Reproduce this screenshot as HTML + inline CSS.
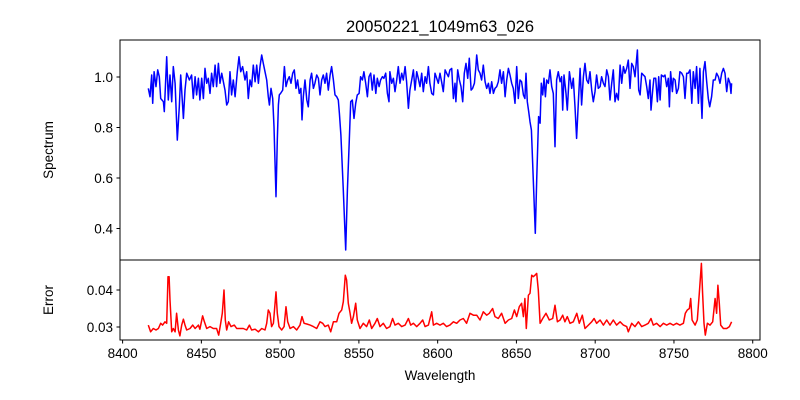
<!DOCTYPE html>
<html><head><meta charset="utf-8"><style>
body{margin:0;background:#fff;}
svg{display:block;font-family:"Liberation Sans","DejaVu Sans",sans-serif;}
</style></head><body>
<svg id="chart" width="800" height="400" viewBox="0 0 800 400">
<rect x="0" y="0" width="800" height="400" fill="#fff"/>
<text x="440" y="32" font-size="16.5" text-anchor="middle">20050221_1049m63_026</text>
<g id="topPanel"></g>
<g id="botPanel"></g>
<rect x="120" y="40" width="640" height="220" fill="none" stroke="#000" stroke-width="1"/>
<rect x="120" y="260" width="640" height="80" fill="none" stroke="#000" stroke-width="1"/>
<text x="53" y="150" font-size="13.5" text-anchor="middle" transform="rotate(-90 53 150)">Spectrum</text>
<text x="53" y="300" font-size="13.5" text-anchor="middle" transform="rotate(-90 53 300)">Error</text>
<text x="440" y="380" font-size="13.5" text-anchor="middle">Wavelength</text>
</svg>
<script>
const specWave=[8416.3,8417.4,8418.5,8419.1,8420.0,8421.2,8422.3,8423.3,8424.2,8425.9,8426.5,8428.0,8429.0,8430.1,8431.2,8432.2,8433.3,8434.7,8436.0,8436.9,8438.6,8439.6,8440.7,8442.4,8443.8,8444.9,8446.0,8447.0,8448.1,8449.1,8450.2,8451.3,8452.3,8453.4,8454.4,8455.5,8456.5,8457.6,8458.7,8459.7,8460.8,8461.8,8462.9,8465.0,8466.1,8467.1,8468.2,8469.2,8470.3,8471.4,8472.8,8473.9,8475.0,8476.2,8477.7,8478.8,8479.8,8480.9,8481.9,8483.0,8484.1,8485.1,8486.2,8487.2,8488.3,8489.3,8490.4,8491.5,8492.5,8493.2,8494.2,8495.3,8496.1,8497.4,8498.2,8498.9,8499.5,8500.3,8501.6,8502.7,8503.7,8504.8,8505.8,8506.9,8508.0,8509.0,8510.1,8511.1,8512.2,8513.2,8513.9,8514.7,8515.8,8516.9,8517.9,8519.0,8520.0,8521.1,8522.1,8523.2,8524.3,8525.3,8526.4,8527.4,8528.5,8529.5,8530.6,8531.7,8532.7,8533.8,8534.8,8535.9,8536.9,8537.6,8538.6,8540.1,8541.6,8542.7,8543.9,8544.8,8545.8,8546.9,8548.0,8549.0,8550.1,8551.1,8552.2,8553.2,8554.3,8555.4,8556.4,8557.5,8558.5,8559.6,8560.7,8561.7,8562.8,8563.8,8564.9,8565.9,8567.0,8568.1,8569.1,8569.7,8570.8,8571.9,8572.9,8574.0,8575.0,8576.1,8577.2,8578.2,8579.3,8580.3,8581.4,8582.4,8583.5,8584.6,8585.6,8586.7,8587.7,8588.8,8589.9,8590.9,8592.0,8593.0,8594.1,8595.1,8596.2,8597.3,8598.3,8599.4,8600.4,8601.5,8602.5,8603.6,8604.7,8605.7,8606.8,8607.8,8608.9,8610.0,8611.0,8611.6,8612.7,8613.8,8614.8,8615.9,8616.9,8618.0,8619.1,8620.1,8621.2,8622.2,8623.3,8624.3,8624.8,8625.8,8626.9,8627.9,8629.0,8630.1,8631.1,8632.2,8633.2,8634.3,8635.4,8636.4,8637.5,8638.5,8639.6,8640.6,8641.7,8642.8,8643.8,8644.9,8645.9,8647.0,8648.0,8649.1,8650.2,8651.2,8652.3,8653.3,8654.4,8655.4,8656.1,8656.9,8657.8,8658.6,8659.5,8660.7,8662.0,8662.9,8664.1,8665.0,8665.8,8666.7,8667.5,8668.4,8669.2,8670.3,8671.3,8672.4,8673.4,8674.5,8675.5,8676.6,8677.7,8678.7,8679.4,8680.2,8681.5,8682.3,8683.6,8685.1,8686.1,8687.2,8688.2,8689.3,8690.4,8691.4,8692.5,8693.5,8694.6,8695.7,8696.7,8697.8,8698.8,8699.9,8700.9,8702.0,8703.1,8704.1,8705.2,8706.2,8707.3,8708.4,8709.4,8710.5,8711.5,8712.6,8713.6,8714.7,8715.8,8716.8,8717.9,8718.9,8720.0,8721.0,8722.1,8723.2,8724.2,8725.3,8726.8,8727.6,8728.5,8729.5,8730.6,8731.6,8732.7,8733.7,8734.8,8735.4,8736.5,8737.3,8738.4,8739.5,8740.3,8741.2,8742.0,8743.3,8744.3,8745.4,8746.4,8747.1,8747.9,8749.0,8749.6,8750.7,8751.7,8752.8,8753.8,8754.9,8756.0,8757.0,8758.1,8759.1,8760.2,8761.3,8762.3,8763.4,8764.4,8765.5,8766.5,8767.8,8768.7,8769.7,8770.8,8771.8,8772.7,8773.9,8775.0,8776.1,8777.1,8778.2,8779.2,8780.3,8781.4,8782.4,8783.5,8784.5,8785.6,8786.2,8786.6];
const specFlux=[0.955,0.922,1.008,0.896,1.021,0.962,1.028,1.001,0.915,0.902,0.863,1.080,0.909,1.008,0.902,1.041,0.975,0.750,0.882,1.008,0.836,0.948,1.015,0.988,1.008,0.915,1.001,0.929,0.995,0.909,0.995,0.915,1.034,0.975,0.995,0.935,1.015,0.962,1.047,0.962,1.054,0.975,1.015,0.948,0.889,0.902,1.021,0.929,0.988,0.922,1.021,1.080,1.021,1.041,0.988,1.021,0.915,0.988,0.962,1.047,0.981,1.047,0.975,1.041,1.087,1.054,1.021,0.988,0.922,0.889,0.955,0.915,0.803,0.526,0.750,0.889,0.929,0.935,0.948,1.041,0.962,0.988,1.001,0.975,1.015,1.028,0.955,0.988,0.935,0.955,0.830,0.922,0.988,0.909,0.882,0.988,1.015,0.955,0.975,1.008,0.995,0.929,0.988,1.008,0.975,1.015,0.948,1.008,1.041,0.988,0.929,0.922,0.909,0.856,0.770,0.552,0.315,0.552,0.750,0.902,0.909,0.836,0.896,0.929,0.935,1.001,0.988,1.021,0.975,0.922,1.001,1.015,0.948,1.008,0.935,0.995,0.962,0.988,1.001,0.995,1.015,0.935,0.902,1.021,0.975,0.995,0.942,0.988,1.041,0.975,1.015,0.988,1.041,0.981,0.876,0.948,0.988,1.028,0.948,1.021,0.995,0.962,1.015,0.942,1.001,0.975,1.041,0.975,0.935,0.929,1.015,0.995,0.975,1.015,0.981,0.942,1.028,1.015,1.001,1.028,1.034,0.915,0.975,0.902,1.028,0.988,0.962,0.902,1.015,1.054,0.995,1.074,0.948,0.955,0.975,1.041,1.087,1.028,1.015,0.988,1.047,0.981,0.955,0.975,0.935,0.981,0.935,0.955,0.962,0.981,1.028,0.975,1.021,0.922,0.988,1.034,1.008,0.975,0.955,0.896,1.041,0.915,0.988,0.981,0.929,0.915,1.015,0.902,0.863,0.823,0.790,0.592,0.381,0.592,0.843,0.817,0.975,0.929,0.995,0.922,0.988,0.975,1.028,0.962,0.935,0.724,0.988,1.021,0.981,1.001,0.869,1.008,0.935,0.869,1.021,0.955,0.995,0.882,0.757,0.896,1.034,0.889,1.001,1.054,0.988,0.975,1.021,0.948,0.902,0.942,1.008,0.955,0.962,1.001,0.975,0.962,1.028,1.001,0.909,0.975,1.028,0.902,0.935,0.909,1.047,0.975,1.041,1.015,1.034,1.067,0.955,1.054,1.041,1.001,1.107,0.948,0.929,1.015,1.008,1.001,0.962,0.915,0.988,0.869,0.948,0.995,0.995,0.902,1.001,0.909,1.008,1.001,1.008,0.962,0.995,0.882,1.021,0.942,0.995,0.988,0.935,0.955,1.021,1.015,1.001,0.915,1.015,1.015,1.028,0.896,1.021,0.955,1.041,0.896,1.034,0.836,1.021,1.061,0.981,0.915,0.882,0.922,0.988,0.988,1.015,1.001,0.975,1.015,1.034,1.015,0.942,0.995,0.975,0.935,0.975];
const errWave=[8416.3,8417.8,8419.5,8421.2,8422.7,8424.2,8425.4,8426.9,8428.0,8428.8,8429.5,8430.1,8431.2,8432.2,8433.3,8434.3,8435.4,8436.4,8437.5,8438.6,8439.6,8440.7,8442.8,8444.5,8446.0,8448.1,8449.1,8450.8,8451.9,8453.4,8455.5,8457.6,8459.7,8461.0,8462.3,8463.3,8464.4,8465.2,8466.1,8467.3,8468.8,8470.9,8472.4,8474.5,8476.6,8478.8,8480.5,8481.9,8484.1,8486.2,8488.3,8490.4,8491.5,8492.5,8493.6,8494.6,8495.7,8497.4,8498.2,8499.3,8501.0,8502.5,8503.7,8504.8,8506.3,8508.4,8510.5,8512.6,8513.9,8515.2,8516.9,8519.0,8521.1,8523.2,8525.3,8527.0,8528.5,8530.6,8532.1,8533.8,8535.9,8537.4,8539.1,8540.1,8541.4,8542.2,8543.3,8544.4,8545.4,8546.5,8548.0,8549.0,8550.7,8552.8,8554.9,8556.6,8558.1,8560.2,8561.7,8563.4,8565.5,8567.6,8569.7,8571.4,8572.9,8575.0,8577.2,8579.3,8581.4,8582.9,8584.6,8586.7,8588.8,8590.5,8592.0,8594.1,8596.2,8597.3,8599.4,8601.5,8603.6,8605.7,8607.8,8610.0,8612.1,8614.2,8616.3,8618.4,8620.5,8622.7,8624.8,8626.9,8629.0,8631.1,8632.8,8634.9,8636.4,8638.5,8640.6,8642.8,8644.9,8647.0,8648.7,8650.2,8651.8,8653.3,8654.4,8655.4,8656.3,8657.6,8658.6,8659.7,8660.7,8661.8,8662.9,8663.9,8665.0,8666.7,8668.8,8670.9,8673.0,8674.5,8676.0,8677.7,8679.4,8680.8,8682.3,8684.0,8686.1,8688.3,8689.9,8691.8,8693.5,8695.7,8697.8,8699.3,8700.9,8703.1,8705.2,8707.3,8709.4,8711.5,8713.6,8715.8,8717.9,8720.0,8721.0,8723.2,8725.3,8727.4,8729.5,8731.6,8733.7,8735.4,8736.9,8739.0,8741.2,8743.3,8745.4,8747.5,8749.6,8751.7,8753.8,8756.0,8757.2,8758.5,8759.8,8760.6,8761.5,8763.4,8764.8,8766.1,8767.4,8768.2,8769.1,8769.9,8771.2,8772.9,8774.6,8776.1,8777.1,8777.9,8778.8,8779.7,8781.4,8783.5,8785.2,8786.6];
const errVal=[0.0305,0.0287,0.0296,0.0292,0.0296,0.0310,0.0305,0.0314,0.0310,0.0436,0.0436,0.0373,0.0287,0.0296,0.0287,0.0337,0.0292,0.0276,0.0305,0.0321,0.0305,0.0292,0.0296,0.0305,0.0296,0.0305,0.0294,0.0330,0.0314,0.0296,0.0301,0.0296,0.0296,0.0278,0.0310,0.0337,0.0400,0.0319,0.0292,0.0314,0.0301,0.0305,0.0296,0.0296,0.0296,0.0292,0.0305,0.0292,0.0294,0.0287,0.0296,0.0292,0.0310,0.0346,0.0337,0.0301,0.0310,0.0395,0.0337,0.0301,0.0292,0.0301,0.0355,0.0314,0.0296,0.0301,0.0292,0.0305,0.0328,0.0310,0.0308,0.0305,0.0301,0.0296,0.0314,0.0310,0.0301,0.0305,0.0287,0.0314,0.0314,0.0337,0.0346,0.0368,0.0440,0.0427,0.0364,0.0337,0.0310,0.0328,0.0364,0.0319,0.0296,0.0310,0.0301,0.0319,0.0296,0.0310,0.0323,0.0301,0.0310,0.0296,0.0301,0.0323,0.0305,0.0310,0.0301,0.0305,0.0323,0.0305,0.0310,0.0301,0.0310,0.0319,0.0301,0.0305,0.0341,0.0305,0.0310,0.0305,0.0310,0.0301,0.0305,0.0314,0.0310,0.0319,0.0323,0.0310,0.0337,0.0332,0.0332,0.0319,0.0341,0.0332,0.0337,0.0350,0.0328,0.0323,0.0337,0.0310,0.0319,0.0323,0.0346,0.0328,0.0355,0.0364,0.0328,0.0377,0.0296,0.0386,0.0391,0.0440,0.0436,0.0440,0.0445,0.0400,0.0310,0.0323,0.0337,0.0319,0.0323,0.0359,0.0314,0.0319,0.0332,0.0314,0.0328,0.0310,0.0314,0.0337,0.0310,0.0332,0.0296,0.0305,0.0314,0.0323,0.0310,0.0319,0.0305,0.0319,0.0305,0.0319,0.0305,0.0314,0.0305,0.0301,0.0287,0.0310,0.0301,0.0314,0.0301,0.0305,0.0310,0.0323,0.0305,0.0310,0.0301,0.0310,0.0305,0.0310,0.0305,0.0310,0.0305,0.0310,0.0337,0.0346,0.0350,0.0377,0.0319,0.0305,0.0319,0.0391,0.0472,0.0391,0.0310,0.0278,0.0310,0.0305,0.0314,0.0377,0.0337,0.0413,0.0364,0.0305,0.0296,0.0296,0.0301,0.0314];
const xTicks=[8400,8450,8500,8550,8600,8650,8700,8750,8800];
const specTicks=[0.4,0.6,0.8,1.0];
const errTicks=[0.03,0.04];

const NS='http://www.w3.org/2000/svg';
function xs(w){return 122.6+(w-8400)*1.5753;}
function ysTop(v){return 77-(v-1)*252.5;}
function ysBot(e){return 290-(e-0.04)*3700;}
function mk(tag,attrs,parent){const el=document.createElementNS(NS,tag);for(const k in attrs)el.setAttribute(k,attrs[k]);parent.appendChild(el);return el;}
const svgEl=document.getElementById('chart');
const topG=document.getElementById('topPanel'),botG=document.getElementById('botPanel');

const nS=Math.min(specWave.length,specFlux.length);
let d='';for(let i=0;i<nS;i++){d+=(i?'L':'M')+xs(specWave[i]).toFixed(1)+','+ysTop(specFlux[i]).toFixed(1);}
const p1=mk('path',{d:d,fill:'none',stroke:'#0000ff','stroke-width':1.5,'stroke-linejoin':'round'},topG);


const nE=Math.min(errWave.length,errVal.length);
let d2='';for(let i=0;i<nE;i++){d2+=(i?'L':'M')+xs(errWave[i]).toFixed(1)+','+ysBot(errVal[i]).toFixed(1);}
const p2=mk('path',{d:d2,fill:'none',stroke:'#ff0000','stroke-width':1.5,'stroke-linejoin':'round'},botG);



xTicks.forEach(t=>{const x=xs(t);
 const l=mk('line',{x1:x,x2:x,y1:340,y2:343.5,stroke:'#000'},svgEl);
 
 
 const tx=mk('text',{x:x,y:358,'font-size':13.5,'text-anchor':'middle'},svgEl);tx.textContent=t;
 
 
});
specTicks.forEach(t=>{const y=ysTop(t);
 const l=mk('line',{x1:116.5,x2:120,y1:y,y2:y,stroke:'#000'},svgEl);
 
 
 const tx=mk('text',{x:113,y:y+5,'font-size':13.5,'text-anchor':'end'},svgEl);tx.textContent=t.toFixed(1);
 
 
});
errTicks.forEach(t=>{const y=ysBot(t);
 const l=mk('line',{x1:116.5,x2:120,y1:y,y2:y,stroke:'#000'},svgEl);
 
 
 const tx=mk('text',{x:113,y:y+5,'font-size':13.5,'text-anchor':'end'},svgEl);tx.textContent=t.toFixed(2);
 
 
});
</script>
</body></html>
